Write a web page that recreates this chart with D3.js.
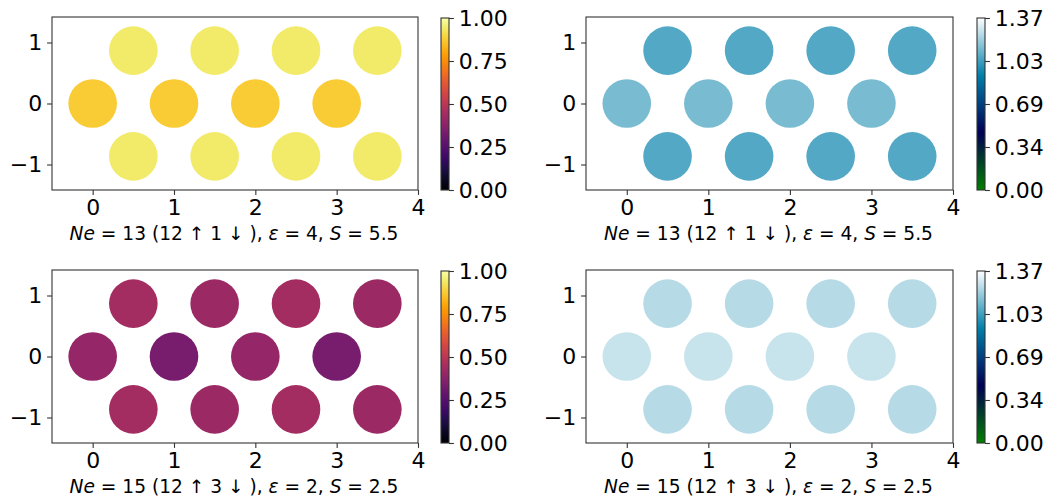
<!DOCTYPE html>
<html>
<head>
<meta charset="utf-8">
<script src="https://cdn.jsdelivr.net/npm/d3@7/dist/d3.min.js"></script>
<style>
  html, body { margin: 0; padding: 0; background: #fff; }
  svg { display: block; }
  text { font-family: "DejaVu Sans", sans-serif; }
</style>
</head>
<body>
<svg id="chart" width="1059" height="504"></svg>
<script>
// Triangular lattice sites (4 + 4 + 4)
const siteX = [0.5, 1.5, 2.5, 3.5, 0, 1, 2, 3, 0.5, 1.5, 2.5, 3.5];
const siteY = [0.866, 0.866, 0.866, 0.866, 0, 0, 0, 0, -0.866, -0.866, -0.866, -0.866];

// Charge per site (inferno, 0..1) for the two configurations
const chargeTop = [0.94, 0.94, 0.94, 0.94, 0.875, 0.875, 0.875, 0.875, 0.94, 0.94, 0.94, 0.94];
const chargeBottom = [0.44, 0.42, 0.44, 0.42, 0.405, 0.335, 0.405, 0.335, 0.44, 0.42, 0.44, 0.42];

// Spin density per site (ocean, 0..1.37)
const spinTop = [1.06, 1.06, 1.06, 1.06, 1.13, 1.13, 1.13, 1.13, 1.06, 1.06, 1.06, 1.06];
const spinBottom = [1.24, 1.24, 1.24, 1.24, 1.27, 1.27, 1.27, 1.27, 1.24, 1.24, 1.24, 1.24];

// Axis ticks
const xTicks = [0, 1, 2, 3, 4];
const yTicks = [-1, 0, 1];
const chargeTicks = [0, 0.25, 0.5, 0.75, 1.0];
const chargeTickLabels = ["0.00", "0.25", "0.50", "0.75", "1.00"];
const spinMax = 1.37;
const spinTicks = [0, 0.3425, 0.685, 1.0275, 1.37];
const spinTickLabels = ["0.00", "0.34", "0.69", "1.03", "1.37"];

// Caption parameters: electrons, up, down, epsilon, S
const neValues = [13, 15];
const upValues = [12, 12];
const downValues = [1, 3];
const epsValues = [4, 2];
const sValues = [5.5, 2.5];

// matplotlib "ocean" colormap
function ocean(t) {
  t = Math.max(0, Math.min(1, t));
  const r = Math.max(0, Math.min(1, 3 * t - 2));
  const g = Math.abs((3 * t - 1) / 2);
  const b = t;
  return d3.rgb(r * 255, g * 255, b * 255).formatHex();
}

const svg = d3.select("#chart");
svg.append("rect").attr("width", 1059).attr("height", 504).attr("fill", "#fff");
const defs = svg.append("defs");

const FONT = 22;
const TICK = 4.9;
const PAD = 4.9;
const SPINE = "#333";

function makeGradient(id, interp) {
  const g = defs.append("linearGradient").attr("id", id)
    .attr("x1", 0).attr("y1", 1).attr("x2", 0).attr("y2", 0);
  d3.range(0, 1.0001, 0.02).forEach(t => {
    g.append("stop").attr("offset", t).attr("stop-color", interp(t));
  });
}
makeGradient("gradInferno", d3.interpolateInferno);
makeGradient("gradOcean", ocean);

function styleAxis(g) {
  g.select(".domain").remove();
  g.selectAll(".tick line").attr("stroke", SPINE).attr("stroke-width", 1.1);
  g.selectAll(".tick text").attr("font-size", FONT).attr("fill", "#000")
    .attr("font-family", "DejaVu Sans, sans-serif");
}

function panel(opts) {
  const { left, right, top, bottom, values, colorFn, cbLeft, cbWidth,
          cbDomainMax, cbTicks, cbLabels, gradId, row } = opts;

  const x = d3.scaleLinear().domain([-0.5, 4]).range([left, right]);
  const y = d3.scaleLinear().domain([-1.418, 1.418]).range([bottom, top]);

  const g = svg.append("g");

  // points
  g.selectAll("circle").data(values).enter().append("circle")
    .attr("cx", (d, i) => x(siteX[i]))
    .attr("cy", (d, i) => y(siteY[i]))
    .attr("r", 24.3)
    .attr("fill", d => colorFn(d));

  // axes
  g.append("g").attr("transform", `translate(0,${bottom})`)
    .call(d3.axisBottom(x).tickValues(xTicks).tickFormat(d3.format("d"))
      .tickSize(TICK).tickPadding(PAD))
    .call(styleAxis);
  g.append("g").attr("transform", `translate(${left},0)`)
    .call(d3.axisLeft(y).tickValues(yTicks).tickFormat(d => d < 0 ? "\u2212" + Math.abs(d) : d)
      .tickSize(TICK).tickPadding(PAD))
    .call(styleAxis);

  g.append("rect").attr("x", left).attr("y", top)
    .attr("width", right - left).attr("height", bottom - top)
    .attr("fill", "none").attr("stroke", SPINE).attr("stroke-width", 1.1);

  // caption
  const cap = g.append("text")
    .attr("x", (left + right) / 2 - 1).attr("y", bottom + 50)
    .attr("text-anchor", "middle").attr("font-size", 18.6).attr("fill", "#000");
  cap.append("tspan").attr("font-style", "italic").text("Ne");
  cap.append("tspan").text(` = ${neValues[row]} (${upValues[row]} \u2191  ${downValues[row]} \u2193 ), `);
  cap.append("tspan").attr("font-style", "italic").text("\u03b5");
  cap.append("tspan").text(` = ${epsValues[row]}, `);
  cap.append("tspan").attr("font-style", "italic").text("S");
  cap.append("tspan").text(` = ${sValues[row]}`);

  // colorbar
  const cbTop = top + 1;
  const cy = d3.scaleLinear().domain([0, cbDomainMax]).range([bottom, cbTop]);
  g.append("rect").attr("x", cbLeft).attr("y", cbTop)
    .attr("width", cbWidth).attr("height", bottom - cbTop)
    .attr("fill", `url(#${gradId})`);
  g.append("g").attr("transform", `translate(${cbLeft + cbWidth},0)`)
    .call(d3.axisRight(cy).tickValues(cbTicks).tickFormat((d, i) => cbLabels[i])
      .tickSize(TICK).tickPadding(PAD))
    .call(styleAxis);
  g.append("rect").attr("x", cbLeft).attr("y", cbTop)
    .attr("width", cbWidth).attr("height", bottom - cbTop)
    .attr("fill", "none").attr("stroke", SPINE).attr("stroke-width", 1.1);
}

const chargeColor = v => d3.interpolateInferno(v);
const spinColor = v => ocean(v / spinMax);

const rows = [
  { top: 17, bottom: 190, charge: chargeTop, spin: spinTop },
  { top: 270, bottom: 443, charge: chargeBottom, spin: spinBottom }
];

rows.forEach((r, i) => {
  panel({ left: 52, right: 418, top: r.top, bottom: r.bottom, values: r.charge,
          colorFn: chargeColor, cbLeft: 441, cbWidth: 8, cbDomainMax: 1,
          cbTicks: chargeTicks, cbLabels: chargeTickLabels, gradId: "gradInferno", row: i });
  panel({ left: 586, right: 953, top: r.top, bottom: r.bottom, values: r.spin,
          colorFn: spinColor, cbLeft: 977, cbWidth: 8, cbDomainMax: spinMax,
          cbTicks: spinTicks, cbLabels: spinTickLabels, gradId: "gradOcean", row: i });
});
</script>
</body>
</html>
